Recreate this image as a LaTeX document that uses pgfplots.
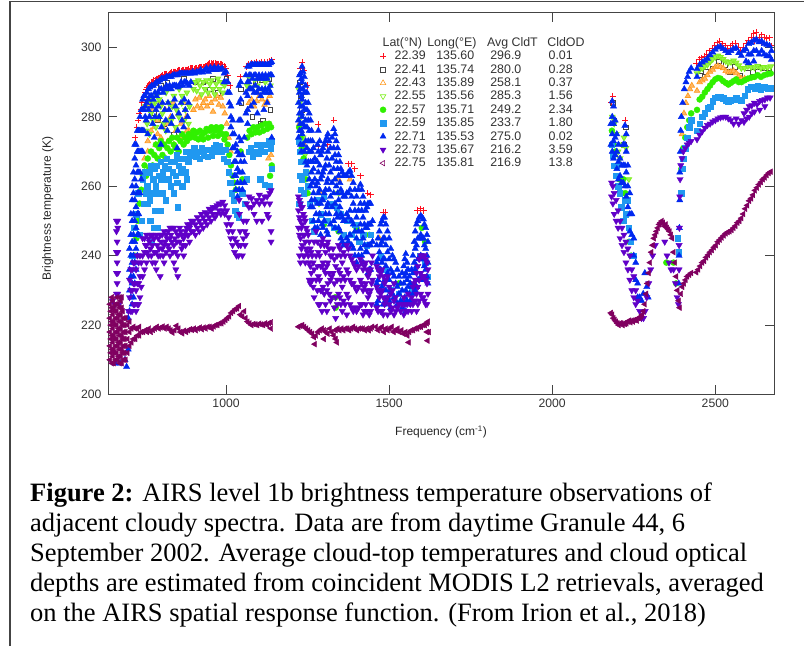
\documentclass[border=0pt]{standalone}
\usepackage{fontspec}
\setmainfont{Liberation Sans}
\newfontfamily\capfont{Liberation Serif}
\usepackage{pgfplots}
\pgfplotsset{compat=1.18}
\definecolor{cR}{HTML}{FF1020}
\definecolor{cK}{HTML}{444444}
\definecolor{cO}{HTML}{FF9A20}
\definecolor{cL}{HTML}{80F020}
\definecolor{cG}{HTML}{30F000}
\definecolor{cB}{HTML}{2098F0}
\definecolor{cT}{HTML}{0028F0}
\definecolor{cP}{HTML}{6000C8}
\definecolor{cM}{HTML}{800060}
\definecolor{axc}{HTML}{444444}
\newcommand{\row}[4]{\hspace*{8pt}\makebox[41.7pt][l]{#1}\makebox[54pt][l]{#2}\makebox[58.3pt][l]{#3}#4}
\begin{document}
\begin{tikzpicture}[x=1pt,y=1pt]
\path[use as bounding box] (0,0) rectangle (804,646);
\draw[axc,line width=1.6pt] (10,0) -- (10,644.5) -- (804,644.5);
\begin{axis}[at={(108pt,251.5pt)},anchor=south west,scale only axis,width=666pt,height=381.8pt,
 xmin=638,xmax=2680,ymin=200,ymax=310,
 xtick={1000,1500,2000,2500},ytick={200,220,240,260,280,300},
 tick align=inside,major tick length=9pt,axis line style={axc,line width=0.9pt},
 every tick/.style={axc,line width=0.9pt},
 /pgf/number format/assume math mode=true,/pgf/number format/1000 sep={},
 tick label style={font=\fontsize{12.2}{14}\selectfont,text=black!80},
 xticklabel style={yshift=-1pt},
 yticklabel style={xshift=-3pt},
 label style={font=\fontsize{12}{14}\selectfont,text=black!85},
 xlabel={Frequency (cm\textsuperscript{-1})},
 ylabel={Brightness temperature (K)},
 xlabel style={yshift=-11pt},
 ylabel style={yshift=21pt,xshift=-5pt},
 legend cell align=left,
 legend style={at={(0.405,0.937)},anchor=north west,draw=none,fill=none,
   font=\fontsize{12.4}{13.3}\selectfont,text=black!80,row sep=2pt,inner sep=0pt,
   nodes={inner sep=0.6pt}},
 legend image code/.code={\draw[#1] plot coordinates {(0.18cm,0cm)};},
]
\addlegendimage{empty legend}
\addlegendentry{\hspace*{-4pt}\makebox[44.7pt][l]{Lat(°N)}\makebox[59.7pt][l]{Long(°E)}\makebox[60.3pt][l]{Avg CldT}CldOD}
% red plus
\addplot[forget plot,only marks,mark=+,mark size=3.1pt,mark options={cR,line width=0.9pt}] coordinates {
(722,274)(730,279)(738,282)(745,285)(752,287)(759,288.5)(766,289.5)(774,290)(782,290.5)(790,291)(798,291.5)(806,292)(814,292.3)(822,292)(830,292.6)(838,293)(846,293)(854,293.5)(862,293.3)(870,293.6)(878,293.4)(886,293.8)(894,294)(902,293.8)(910,294)(918,294.2)(926,294.4)(934,294.2)(942,295)(950,295.5)(958,295.3)(966,295.4)(974,295.2)(982,295.3)(990,295)(998,294)(1005,292)(1012,289)(1043,291.5)(1062,294.5)(1070,295.3)(1078,295.5)(1086,295.6)(1094,295.8)(1102,295.6)(1110,295.8)(1118,295.7)(1126,295.8)(1134,296)(1140,296.4)
(726,277)(734,281)(742,284)(748,286)(756,288)(763,289)(770,290)(778,290.5)(786,291)(794,291.3)(802,291.8)(810,292.2)(818,292.2)(826,292.4)(834,292.8)(842,293)(850,293.3)(858,293.4)(866,293.5)(874,293.5)(882,293.6)(890,293.9)(898,293.9)(906,293.9)(914,294.1)(922,294.3)(930,294.3)(938,294.6)(946,295.3)(954,295.4)(962,295.4)(970,295.3)(978,295.2)(986,295.2)(994,294.6)
(1228,294)(1233,295.8)(1240,293.5)(1248,289)(1283,277.8)(1330,279)(1283,271.5)(1312,272)(1375,266.5)(1385,266.5)(1395,265)(1412,263)(1435,258)(1443,257.5)(1482,252.5)(1488,252.5)(1587,253)(1597,253.5)(1606,253)
(2182,284)(2186,286)(2224,279)(2442,295.5)(2450,296.5)(2458,297)(2466,297.5)(2474,298)(2482,299)(2490,299.8)(2498,300.5)(2506,301.3)(2514,301.8)(2522,301)(2530,300.5)(2538,299.8)(2546,300.5)(2554,301)(2562,301.2)(2570,300)(2578,299)(2586,300)(2594,301)(2602,302)(2610,303)(2618,304)(2626,304.3)(2634,303)(2642,303.6)(2650,303)(2658,302.6)(2666,302.8)(2672,300.5)(2620,302)(2640,301.5)
};
\addlegendimage{only marks,mark=+,mark size=3pt,mark options={cR,line width=0.7pt}}
\addlegendentry{\row{22.39}{135.60}{296.9}{0.01}}
% black squares
\addplot[forget plot,only marks,mark=square,mark size=2.3pt,mark options={cK,line width=0.45pt,fill=none}] coordinates {
(1000,291)(960,291)(930,290)(905,290)(870,291)(820,290)(800,289)(780,281)(810,278)(840,275)(760,284)(790,279)(950,288)(975,287)(1045,288)(1046,284)(1080,280)(1105,278)(1112,279)(1135,282)(1130,291)(1110,290.5)(1090,290)(1225,290)(1228,286)(1232,282)(2185,284)(2225,277)(2220,272)(2190,279)
(2452,292)(2470,293)(2490,294)(2510,296)(2530,295)(2545,293)(2560,294.5)(2575,292)(2600,294)(2615,293)(2630,294.5)(2650,294)(2665,294)
};
\addlegendimage{only marks,mark=square,mark size=2.7pt,mark options={cK,line width=0.6pt}}
\addlegendentry{\row{22.41}{135.74}{280.0}{0.28}}
% orange
\addplot[forget plot,only marks,mark=triangle*,mark size=3.2pt,mark options={draw=cO,fill=cO!70,line width=0.7pt}] coordinates {
(750,268)(755,279)(762,283)(770,276)(776,282)(784,272)(790,279)(798,284)(806,277)(814,282)(822,273)(830,280)(838,284)(846,276)(854,281)(862,278)(870,284)(878,280)(886,276)
(760,273)(780,277)(800,274)(820,278)(840,272)(860,274)(880,276)(760,270)(790,275)
(900,282)(906,285)(912,283)(918,285.5)(924,282.5)(930,284)(936,285)(942,283)(948,286)(954,284)(960,281.5)(966,285)(972,286)(978,283.5)(984,285.5)(990,283)(996,281)(1002,278)(1008,274)(1014,270)
(1070,284)(1078,285)(1086,283)(1094,284.5)(1102,286)(1110,285)(1118,283.5)(1126,284.5)(1134,286)(1138,269)(1130,268)
(1225,278)(1230,276)(1240,272)(1290,258)(1345,262)(1380,262)(1470,245)
(2398,275)(2404,281)(2410,284)(2416,286)(2422,288)(2428,289)(2444,287.5)(2452,290)(2460,290.5)(2468,291)(2476,292)(2484,293)(2492,293.6)(2500,294.3)(2508,294.6)(2516,294.4)(2524,294)(2532,293.2)(2540,292.8)(2548,293)(2556,293.2)(2564,292.6)(2572,291.8)(2580,291)(2590,291)
};
\addlegendimage{only marks,mark=triangle,mark size=3.2pt,mark options={cO,line width=0.6pt}}
\addlegendentry{\row{22.43}{135.89}{258.1}{0.37}}
% light green
\addplot[forget plot,only marks,mark=triangle*,mark size=3.2pt,mark options={draw=cL,fill=cL!80,line width=0.8pt,rotate=180}] coordinates {
(752,283)(758,278)(764,285)(770,281)(776,279)(782,284)(788,286)(794,280)(800,283)(808,278)(816,287)(824,284)(832,279)(840,286)(848,282)(856,288)(864,284)(872,279)(880,287)(888,283)
(755,276)(765,275)(775,284)(785,277)(795,285)(805,281)(815,276)(825,279)(835,283)(845,277)(855,280)(865,286)(875,282)(885,278)
(900,288)(905,290)(910,287.5)(915,290.5)(920,289)(925,286.5)(930,290)(935,288)(940,290.5)(945,287)(950,289.5)(955,290.5)(960,288)(965,286.5)(970,289.5)(975,291)(980,288)(985,290)(990,287)(995,289)
(1064,289)(1072,291)(1080,288.5)(1088,290.5)(1096,289)(1104,291)(1112,288)(1120,290)(1128,291)(1136,289)
(1222,288)(1226,284)(1230,280)(1236,274)(1242,269)(1250,264)(1285,255)(1345,258)
(2184,280)(2190,278)(2196,275)(2202,270)(2208,268)(2214,272)(2220,274)(2226,271)(2235,262)
(2444,292.5)(2452,293.6)(2460,294)(2468,294.6)(2476,295)(2484,295.8)(2492,296.6)(2500,297.2)(2508,297.6)(2516,297.2)(2524,296.6)(2532,296)(2540,295.6)(2548,295.8)(2556,296.2)(2564,295.6)(2572,294.8)(2580,294)(2590,294)(2600,294.6)(2610,294.3)(2620,294.2)(2630,294.6)(2640,294)(2650,294.3)(2660,294.2)(2670,294.5)
};
\addlegendimage{only marks,mark=triangle,mark size=3.2pt,mark options={cL,line width=0.6pt,rotate=180}}
\addlegendentry{\row{22.55}{135.56}{285.3}{1.56}}
% green circles
\addplot[forget plot,only marks,mark=*,mark size=3pt,mark options={cG}] coordinates {
(745,263)(750,266)(755,263)(760,268)(765,265)(770,270)(775,266)(780,269)(785,272)(790,268)(795,271)(800,273)(805,269)(810,272)(815,268)(820,271)(825,273)(830,270)(835,274)(840,272)(845,271)(850,274)(855,270)(860,273)(865,275)(870,272)(875,274)(880,273)(885,275)(890,274)
(895,275)(900,276)(905,274)(910,275.5)(915,273.5)(920,276)(925,274.5)(930,273.5)(935,275.5)(940,276.5)(945,274)(950,276)(955,277)(960,274.5)(965,276)(970,277)(975,274.5)(980,276)(985,277)(990,275)(995,273.5)(1000,275)(1005,272)(1010,269)(1015,266)(1020,263)(1025,261)(1030,259)
(1045,270)(1050,262)(1065,274)(1072,276)(1078,275)(1084,277)(1090,275.5)(1096,277)(1102,275.5)(1108,277.5)(1114,276)(1120,278)(1126,276.5)(1132,278)(1138,277)(1140,266)(1135,263)
(720,240)(725,245)(730,250)(735,255)(740,259)
(1224,277)(1228,274)(1232,271)(1238,268)(1244,262)(1250,258)(1300,249)(1335,228)(1336,225)(1345,247)(1400,248)(1440,246)(1530,232)(1600,248)(1610,244)
(2183,276)(2188,272)(2194,270)(2200,266)(2206,262)(2212,258)(2218,262)(2224,258)(2230,252)(2236,244)(2242,240)
(2350,238)(2372,238)(2380,232)
(2396,265)(2402,271)(2408,274)(2414,277)(2420,279)(2426,281)(2444,282)(2452,285)(2460,285.8)(2468,287)(2476,288)(2484,289)(2492,290)(2500,290.8)(2508,291.2)(2516,291)(2524,290.3)(2532,289.8)(2540,289.3)(2548,289.8)(2556,290.3)(2564,290.8)(2572,290)(2580,290)(2590,290.5)(2600,291)(2610,291.3)(2620,291.5)(2630,292)(2640,291.5)(2650,292)(2660,292.3)(2670,292.5)
};
\addlegendimage{only marks,mark=*,mark size=3pt,mark options={cG}}
\addlegendentry{\row{22.57}{135.71}{249.2}{2.34}}
% light blue squares
\addplot[forget plot,only marks,mark=square*,mark size=2.7pt,mark options={cB}] coordinates {
(712,240)(718,248)(724,252)(730,258)(736,246)(742,250)(748,255)(745,262)(752,264)(758,260)(764,264)(770,266)(776,262)(782,265)(788,266)(794,263)(800,267)(806,264)(812,266)(818,268)(824,265)(830,267)(836,264)(842,267)(848,269)(854,266)(860,268)(866,265)(872,268)(878,270)(884,267)(890,269)
(760,255)(768,250)(775,258)(782,253)(790,248)(798,253)(806,258)(815,256)(830,260)(840,258)(850,261)(852,254)(865,260)(880,262)
(755,258)(765,256)(775,262)(785,260)(795,258)(810,262)(825,262)(845,263)(860,264)(875,264)(770,244)(780,248)(800,262)
(896,270)(902,271)(908,268.5)(914,270)(920,268)(926,271)(932,269)(938,270.5)(944,268.5)(950,270.5)(956,269)(962,271)(968,272)(974,270)(980,271.5)(986,270)(992,268)(998,270.5)(1003,267)(1008,264)(1013,261)(1018,258)(1023,256)(1028,253)(1033,252)(1038,251)
(1050,258)(1058,255)(1064,262)(1070,270)(1076,271)(1082,268.5)(1088,270)(1094,272)(1100,269.5)(1106,271)(1112,272)(1118,270)(1124,272)(1130,273)(1136,271)(1140,273)(1105,262)(1118,260.5)(1132,260)(1140,265)
(1222,273)(1226,270)(1230,267)(1225,263)(1228,259)(1224,255)(1232,262)(1238,258)(1244,264)(1250,260)(1256,255)(1262,250)(1270,247)(1280,256)(1290,252)(1300,257)(1310,250)(1320,255)(1330,248)(1340,254)(1350,252)(1360,246)(1372,250)(1384,246)(1396,249)(1408,244)(1420,246)(1432,243)(1444,246)(1475,240)(1490,236)(1505,230)(1530,229)(1570,230)(1595,240)(1610,238)(1618,234)
(2182,272)(2186,269)(2190,266)(2194,263)(2198,266)(2202,260)(2206,258)(2212,254)(2218,250)(2222,256)(2226,252)(2230,256)(2235,248)(2240,244)(2248,240)
(2385,245)(2388,241)(2396,258)(2398,265)(2402,268)(2408,271)(2414,274)(2420,277)(2426,279)(2444,276)(2452,278)(2460,280)(2468,281)(2476,282.5)(2484,283)(2492,284.5)(2500,285.5)(2508,285.8)(2516,285.6)(2524,285.4)(2532,284.8)(2540,284.4)(2548,284.8)(2556,285)(2564,285.5)(2572,285)(2580,284.8)(2590,286)(2600,288)(2610,288.6)(2620,288.3)(2630,288.8)(2640,288)(2650,288.5)(2660,288.2)(2670,288.2)
};
\addlegendimage{only marks,mark=square*,mark size=2.7pt,mark options={cB}}
\addlegendentry{\row{22.59}{135.85}{233.7}{1.80}}
% blue triangles
\addplot[forget plot,only marks,mark=triangle*,mark size=3.6pt,mark options={cT}] coordinates {
(695,208)(675,209)(660,209)(690,210)(700,213)(700,222)(704,224)(704,230)(704,236)(704,242)(708,228)(708,234)(708,240)(708,246)(708,252)(712,226)(712,232)(712,238)(712,244)(712,250)(712,256)(712,260)(716,228)(716,234)(716,240)(716,246)(716,252)(716,258)(716,264)(720,232)(720,238)(720,244)(720,250)(720,256)(720,262)(720,268)(720,272)(724,236)(724,242)(724,248)(724,254)(724,260)(724,266)(724,272)(728,240)(728,246)(728,252)(728,258)(728,264)(728,270)(728,276)(732,246)(732,252)(732,258)(732,264)(732,270)(732,276)(736,258)(736,264)(736,270)(736,276)(736,280)(740,262)(740,270)(740,276)(740,282)(744,270)(744,276)(744,282)(744,285)(748,276)(748,282)(748,286)
(752,286)(752,283)(752,280)(757,287)(757,284)(762,288)(762,285)(762,282)(767,288.5)(767,286)(772,289)(772,286)(772,283)(777,289)(777,285)(782,289.5)(782,287)(782,280)(787,290)(787,286)(792,290)(792,287)(792,283)(797,290.5)(797,288)(802,291)(802,288)(802,277)(807,291)(807,287)(812,291)(812,288)(812,282)(817,291.5)(817,289)(822,291.5)(822,288)(822,284)(827,291.5)(827,289)(832,291.5)(832,288)(832,278)(837,292)(837,289)(842,292)(842,289)(842,285)(847,292)(847,289)(852,292)(852,288.5)(852,276)(857,292.5)(857,289)(862,292.5)(862,290)(862,284)(867,292.5)(867,289)(872,292.5)(872,290)(872,285)(877,292.5)(877,290)(882,292.5)(882,289.5)(882,280)(887,292.5)(887,289)(892,292.5)(892,290)
(755,279)(765,280)(775,278)(785,282)(795,280)(805,284)(815,279)(825,282)(835,280)(845,283)(855,281)(865,279)(875,282)(885,284)(760,275)(780,274)(800,272)(820,276)(850,271)(870,277)
(898,293)(904,292.5)(910,293)(916,292.8)(922,293.5)(928,292.8)(934,293.3)(940,294)(946,293)(952,294.2)(958,293.5)(964,294.3)(970,293.5)(976,294.2)(982,293.6)(988,294)(994,292.5)(994,290)(1000,293)(1000,290)(1005,290)(1005,287)(1010,287)(1010,284)(1015,283)(1015,280)(1015,277)(1020,279)(1020,275)(1020,271)(1025,275)(1025,271)(1025,267)(1025,263)(1030,272)(1030,267)(1030,263)(1030,259)(1035,270)(1035,265)(1035,261)(1035,257)
(1040,289)(1040,284)(1040,279)(1040,274)(1040,269)(1040,264)(1040,259)(1045,290)(1045,285)(1045,279)(1045,273)(1045,267)(1045,261)(1050,269)(1050,264)(1050,259)(1056,261)(1056,267)(1056,274)(1061,281)(1061,287)(1061,292)
(1066,294.5)(1066,290)(1066,286)(1066,282)(1066,278)(1071,294.5)(1071,292)(1071,288)(1076,295)(1076,292)(1076,283)(1081,295)(1081,291)(1086,295)(1086,292)(1086,287)(1091,295)(1091,292)(1096,295)(1096,291)(1096,281)(1101,295)(1101,292)(1106,295)(1106,291)(1106,286)(1111,295)(1111,292)(1116,295)(1116,291)(1116,282)(1121,295)(1121,292)(1126,295)(1126,291)(1126,284)(1131,295)(1131,292)(1136,295.5)(1136,292)(1136,287)(1140,295.8)(1140,292)(1140,274)
(1070,290)(1080,288)(1090,289)(1100,288)(1110,288)(1120,288)(1130,288)(1075,288)(1085,284)(1095,287)(1115,287)(1125,287)(1135,289)
(1222,289)(1222,284)(1222,279)(1222,274)(1228,292.5)(1228,288)(1228,283)(1228,278)(1228,272)(1233,294.5)(1233,290)(1233,285)(1233,280)(1233,275)(1240,291.5)(1240,287)(1240,282)(1240,277)(1240,270)(1248,287)(1248,282)(1248,277)(1248,271)(1248,266)(1255,281)(1255,276)(1255,270)(1255,262)(1262,276)(1262,270)(1262,264)(1262,256)(1268,271)(1268,265)(1268,258)(1268,250)
(1276,267)(1276,260)(1276,252)(1283,276)(1283,270)(1283,264)(1283,258)(1283,250)(1290,269)(1290,262)(1290,255)(1290,246)(1297,271)(1297,264)(1297,256)(1297,248)(1305,273)(1305,266)(1305,259)(1305,252)(1312,275)(1312,270)(1312,262)(1312,255)(1312,246)(1320,271)(1320,264)(1320,257)(1320,249)(1330,276.5)(1330,271)(1330,265)(1330,258)(1330,250)(1338,273)(1338,267)(1338,260)(1338,252)(1345,269)(1345,263)(1345,256)(1345,248)(1352,265)(1352,259)(1352,252)(1352,245)
(1360,263)(1360,257)(1360,250)(1360,243)(1370,263)(1370,258)(1370,252)(1370,245)(1380,264.5)(1380,259)(1380,253)(1380,246)(1390,261)(1390,255)(1390,249)(1390,242)(1400,257)(1400,251)(1400,245)(1400,238)(1412,260.5)(1412,255)(1412,249)(1412,242)(1420,257)(1420,251)(1420,245)(1420,238)(1428,253)(1428,248)(1428,241)(1435,255)(1435,249)(1435,243)(1435,235)(1443,255)(1443,249)(1443,243)(1443,236)(1449,250)(1449,244)
(1225,292)(1225,287)(1225,281)(1225,276)(1231,291)(1231,286)(1231,281)(1231,276)(1231,270)(1236,293)(1236,288)(1236,283)(1236,278)(1236,272)(1244,289)(1244,284)(1244,279)(1244,273)(1244,267)(1252,284)(1252,279)(1252,273)(1252,267)(1259,279)(1259,273)(1259,267)(1259,260)(1259,254)(1265,273)(1265,267)(1265,261)(1265,254)(1272,268)(1272,262)(1272,256)(1272,248)(1280,272)(1280,267)(1280,261)(1280,255)(1280,248)(1287,273)(1287,266)(1287,259)(1287,252)(1294,270)(1294,263)(1294,256)(1294,249)(1301,272)(1301,265)(1301,258)(1301,250)(1309,274)(1309,268)(1309,261)(1309,254)(1309,247)(1316,273)(1316,266)(1316,259)(1316,252)(1325,274)(1325,268)(1325,261)(1325,254)(1334,275)(1334,269)(1334,262)(1334,255)(1334,248)(1342,271)(1342,265)(1342,258)(1342,251)(1349,267)(1349,261)(1349,254)(1349,247)(1356,264)(1356,258)(1356,251)(1356,244)(1365,263)(1365,257)(1365,250)(1365,243)(1375,264)(1375,258)(1375,251)(1375,244)(1385,263)(1385,257)(1385,250)(1385,243)(1395,259)(1395,253)(1395,247)(1395,240)(1406,259)(1406,253)(1406,247)(1406,240)(1416,259)(1416,253)(1416,247)(1416,240)(1424,255)(1424,249)(1424,243)(1432,254)(1432,248)(1432,241)(1439,255)(1439,249)(1439,243)(1439,236)
(1462,243)(1462,238)(1462,232)(1462,226)(1470,247)(1470,241)(1470,236)(1470,230)(1478,250)(1478,244)(1478,238)(1478,231)(1486,251)(1486,245)(1486,239)(1486,233)(1486,226)(1495,247)(1495,241)(1495,235)(1495,228)(1505,242)(1505,236)(1505,230)(1505,225)(1515,239)(1515,234)(1515,228)(1525,236)(1525,231)(1525,226)(1535,232)(1535,227)(1545,237)(1545,232)(1545,227)(1551,240.5)(1551,235)(1551,230)(1551,224)(1558,236)(1558,231)(1558,226)(1565,232)(1565,227)(1573,240)(1573,235)(1573,229)(1580,247)(1580,242)(1580,236)(1580,230)(1588,250)(1588,245)(1588,239)(1588,233)(1597,251.5)(1597,246)(1597,240)(1597,234)(1605,250.5)(1605,245)(1605,239)(1612,248)(1612,242)(1612,236)(1619,244)(1619,238)(1619,232)
(1466,245)(1466,239)(1466,233)(1466,227)(1474,249)(1474,243)(1474,236)(1474,230)(1482,251)(1482,245)(1482,239)(1482,232)(1482,226)(1490,249)(1490,243)(1490,237)(1490,230)(1500,245)(1500,239)(1500,233)(1500,227)(1510,240)(1510,235)(1510,229)(1520,238)(1520,232)(1520,227)(1530,234)(1530,229)(1540,235)(1540,230)(1540,225)(1548,239)(1548,234)(1548,228)(1555,238)(1555,233)(1555,227)(1562,234)(1562,229)(1569,236)(1569,231)(1577,244)(1577,238)(1577,232)(1584,249)(1584,243)(1584,237)(1584,231)(1592,251)(1592,245)(1592,239)(1592,233)(1601,251)(1601,245)(1601,239)(1601,233)(1608,249)(1608,243)(1608,237)(1616,246)(1616,240)(1616,234)
(2180,278)(2180,272)(2184,284.5)(2184,280)(2184,275)(2184,270)(2188,283)(2188,278)(2188,273)(2188,268)(2193,279)(2193,274)(2193,269)(2198,275)(2198,270)(2198,265)(2203,272)(2203,267)(2203,262)(2208,268)(2208,263)(2213,266)(2213,261)(2218,272)(2218,266)(2218,261)(2223,277.5)(2223,272)(2223,266)(2223,260)(2227,275)(2227,270)(2227,264)(2227,257)(2232,266)(2232,260)(2232,254)(2238,258)(2238,252)(2238,247)(2244,252)(2244,246)(2250,245)(2250,240)(2256,238)(2256,233)(2262,232)(2262,228)(2268,228)(2274,227)(2279,229)(2284,235)(2290,231)(2294,228)
(2388,232)(2389,240)(2390,248)(2391,256)(2391,264)(2393,270)(2394,276)(2396,280)(2400,284)(2405,288)(2410,290)(2415,291.5)(2420,293)(2426,294)
(2444,293.8)(2444,291.5)(2452,295)(2460,295.7)(2468,296.2)(2476,296.8)(2484,297.8)(2492,298.6)(2500,299.4)(2508,300)(2516,300.2)(2524,299.6)(2532,299)(2540,298.4)(2548,299)(2556,299.6)(2564,299.8)(2572,298.4)(2580,297.6)(2586,299)(2594,299.5)(2594,296)(2602,301)(2602,298)(2602,295.5)(2610,301.3)(2610,298)(2618,302)(2618,299)(2618,296)(2626,302.3)(2626,299)(2634,301.5)(2634,298)(2642,301.8)(2642,299)(2650,301)(2650,298)(2658,300.8)(2658,297.5)(2666,300.5)(2666,297.5)(2672,299)(2672,296.5)
};
\addlegendimage{only marks,mark=triangle*,mark size=3.4pt,mark options={cT}}
\addlegendentry{\row{22.71}{135.53}{275.0}{0.02}}
% purple triangles
\addplot[forget plot,only marks,mark=triangle*,mark size=3.6pt,mark options={cP,rotate=180}] coordinates {
(664,250)(668,250)(664,247)(668,248)(666,244)(664,241)(668,241)(666,238)(664,235)(668,235)(666,232)(664,229)(668,229)(660,226)(672,226)(652,227)
(701,224)(704,228)(704,233)(708,224)(708,230)(708,236)(712,224)(712,230)(712,236)(716,226)(716,232)(716,238)(720,226)(720,232)(720,238)(724,224)(724,230)(724,236)(728,226)(728,232)(728,240)(732,226)(732,232)(732,238)(736,228)(736,234)(736,240)(740,231)(740,238)(744,234)(744,240)(744,245)
(750,236)(750,241)(750,245)(756,238)(756,243)(756,246)(762,240)(762,245)(768,242)(768,246)(774,238)(774,243)(774,246)(780,241)(780,245)(786,236)(786,241)(786,246)(792,240)(792,245)(798,234)(798,240)(798,246)(804,242)(804,246)(810,238)(810,243)(810,247)(816,241)(816,246)(822,243)(822,247)(828,240)(828,245)(828,248)(834,244)(834,248)(840,238)(840,243)(840,248)(846,236)(846,241)(846,247)(852,234)(852,240)(852,246)(858,244)(858,248)(864,242)(864,246)(870,240)(870,245)(876,243)(876,247)(882,246)(882,249)(888,244)(888,248)(894,247)(894,250)
(753,243)(759,241)(765,244)(771,240)(777,245)(783,238)(789,243)(795,242)(801,244)(807,240)(813,244)(819,245)(825,242)(831,246)(837,241)(843,245)(849,244)(855,246)(861,247)(867,243)(873,246)(879,248)(885,246)(891,249)
(900,247)(900,250)(906,246)(906,249)(912,248)(912,251)(918,247)(918,250)(924,249)(924,252)(930,248)(930,251)(936,250)(936,252.5)(942,249)(942,252)(948,251)(948,253.5)(954,250)(954,253)(960,252)(960,254)(966,251)(966,254)(972,252)(972,254.5)(978,253)(978,255)(984,252)(984,255)(990,253)(990,255.5)(996,252)(996,254.5)(1002,249)(1002,253)(1008,247)(1008,251)(1014,245)(1014,249)(1020,243)(1020,247)(1026,241)(1026,245)(1032,240)(1032,244)(1038,240)(1038,243)
(1040,256)(1041,252)(1043,247)(1045,243)(1050,240)(1053,245)(1053,250)(1058,243)(1058,247)(1063,255)(1063,250)(1063,246)(1070,254)(1070,257)(1078,254)(1078,256.5)(1086,255)(1086,252)(1094,256)(1094,250)(1102,255)(1102,257.5)(1110,256)(1110,250)(1118,257)(1118,255)(1126,257)(1126,252)(1134,258)(1134,255)(1138,258.8)(1138,247)(1138,244)(1130,251)
(1222,257)(1222,253)(1222,248)(1228,255)(1228,250)(1228,245)(1228,238)(1234,254)(1234,249)(1234,243)(1240,251)(1240,246)(1240,240)(1246,248)(1246,242)(1252,246)(1252,240)(1258,242)(1258,237)(1258,232)(1264,240)(1264,233)(1270,236)(1270,228)(1270,244)
(1225,256)(1225,251)(1225,246)(1225,240)(1231,254)(1231,248)(1231,242)(1237,252)(1237,246)(1237,240)(1243,250)(1243,244)(1243,238)(1249,247)(1249,241)(1255,244)(1255,238)(1255,233)(1261,241)(1261,235)(1267,238)(1267,231)
(1276,247)(1276,240)(1276,233)(1283,241)(1283,234)(1283,226)(1290,243)(1290,237)(1290,230)(1297,245)(1297,238)(1297,231)(1305,241)(1305,235)(1305,226)(1312,244)(1312,238)(1312,232)(1320,240)(1320,233)(1320,227)(1328,242)(1328,235)(1336,237)(1336,228)(1336,222)(1345,243)(1345,236)(1345,229)(1352,240)(1352,233)(1352,226)(1360,241)(1360,234)(1360,227)(1370,243)(1370,236)(1370,229)(1370,223)(1380,240)(1380,233)(1380,226)(1390,238)(1390,232)(1390,224)(1400,236)(1400,230)(1400,224)(1412,239)(1412,233)(1412,226)(1420,236)(1420,230)(1420,223)(1428,238)(1428,232)(1428,226)(1435,234)(1435,228)(1443,236)(1443,230)(1443,224)(1449,240)(1449,233)
(1280,244)(1280,237)(1280,230)(1287,240)(1287,233)(1287,226)(1294,244)(1294,237)(1294,230)(1294,224)(1301,243)(1301,236)(1301,229)(1309,243)(1309,237)(1309,230)(1309,224)(1316,242)(1316,235)(1316,229)(1324,240)(1324,234)(1324,228)(1332,239)(1332,232)(1332,225)(1341,240)(1341,233)(1341,226)(1349,242)(1349,235)(1349,228)(1356,238)(1356,231)(1356,224)(1365,240)(1365,233)(1365,226)(1375,242)(1375,235)(1375,228)(1385,239)(1385,232)(1385,225)(1395,237)(1395,231)(1395,225)(1406,237)(1406,231)(1406,225)(1416,238)(1416,232)(1416,226)(1424,237)(1424,231)(1424,224)(1432,236)(1432,230)(1432,224)(1439,235)(1439,229)(1439,223)(1446,238)(1446,232)(1446,226)
(1462,237)(1462,231)(1462,225)(1470,234)(1470,228)(1478,236)(1478,230)(1478,224)(1486,232)(1486,226)(1495,234)(1495,228)(1495,223)(1505,229)(1505,224)(1515,232)(1515,227)(1515,223)(1525,225)(1535,224)(1545,228)(1545,223)(1551,224)(1558,229)(1558,224)(1565,226)(1573,231)(1573,226)(1580,233)(1580,227)(1588,237)(1588,231)(1588,226)(1597,240)(1597,235)(1597,229)(1605,240)(1605,234)(1605,228)(1612,239)(1612,233)(1612,226)(1619,236)(1619,229)
(1466,236)(1466,230)(1466,224)(1474,235)(1474,229)(1474,224)(1482,234)(1482,228)(1482,223)(1490,233)(1490,227)(1500,231)(1500,226)(1510,230)(1510,225)(1520,228)(1520,224)(1530,226)(1540,226)(1548,226)(1555,226)(1569,228)(1569,224)(1577,232)(1577,227)(1584,235)(1584,229)(1584,224)(1592,239)(1592,233)(1592,227)(1601,240)(1601,234)(1601,228)(1608,240)(1608,234)(1608,227)(1616,238)(1616,232)(1616,226)
(2182,261)(2182,257)(2186,260)(2186,255)(2190,258)(2190,252)(2196,256)(2196,250)(2202,253)(2202,248)(2208,250)(2208,245)(2214,248)(2214,243)(2220,246)(2220,241)(2226,244)(2226,238)(2232,242)(2232,236)(2238,240)(2238,233)(2244,236)(2244,230)(2250,234)(2250,228)(2256,230)(2256,226)(2262,227)(2268,224)(2274,222)(2280,222)(2285,224)(2290,228)(2296,232)(2302,236)(2308,240)(2316,243)(2345,244)(2352,240)(2358,238)(2364,236)(2372,236)(2378,232)(2383,228)(2387,226)(2389,236)(2389,243)(2390,248)(2391,257)(2392,262)(2394,266)(2398,268)(2402,270)(2408,271)(2414,272)(2420,272.5)(2426,273)
(2444,273.5)(2452,274.8)(2460,275.8)(2468,276.8)(2476,277.6)(2484,278)(2492,278.6)(2500,279)(2508,279.5)(2516,279.8)(2524,280)(2532,280)(2540,279.5)(2548,279)(2556,278)(2564,279.5)(2572,278)(2580,279)(2588,281)(2588,278.5)(2596,282)(2596,279.5)(2604,283)(2604,280)(2612,283.3)(2612,281)(2620,284)(2620,281.5)(2628,283.6)(2636,284.5)(2636,282)(2644,284.8)(2652,285)(2652,283)(2660,285.5)(2668,285.5)
};
\addlegendimage{only marks,mark=triangle*,mark size=3.4pt,mark options={cP,rotate=180}}
\addlegendentry{\row{22.73}{135.67}{216.2}{3.59}}
% magenta left triangles
\addplot[forget plot,only marks,mark=triangle*,mark size=3.3pt,mark options={cM,rotate=90}] coordinates {
(644,210)(644,214)(644,218)(644,222)(644,226)(650,209)(650,213)(650,217)(650,221)(650,225)(650,228)(656,209)(656,213)(656,217)(656,221)(656,225)(662,210)(662,214)(662,218)(662,222)(662,226)(668,210)(668,214)(668,218)(668,222)(668,226)(674,209)(674,213)(674,217)(674,221)(674,225)(674,228)(680,209)(680,213)(680,217)(680,221)(680,225)(680,228)(686,210)(686,214)(686,218)(686,222)(692,210)(692,214)(692,218)(692,222)(698,212)(698,216)(698,220)(704,214)(704,218)(704,221)(710,215)(710,219)(716,216)(716,219.5)(722,216)(722,219)(728,217)(728,219)(734,217)(734,219.5)
(647,212)(647,216)(647,220)(647,224)(653,211)(653,215)(653,219)(653,223)(653,227)(659,212)(659,216)(659,220)(659,224)(665,212)(665,216)(665,220)(665,224)(665,228)(671,211)(671,215)(671,219)(671,223)(677,211)(677,215)(677,219)(677,223)(677,227)(683,212)(683,216)(683,220)(683,224)(689,212)(689,216)(689,220)
(740,218)(746,218)(752,218.5)(758,218)(764,219)(770,218)(776,218.6)(782,219)(788,219.5)(794,219)(800,219.3)(806,219.6)(812,219)(818,219.5)(824,219)(830,218.5)(836,217.8)(842,218.5)(848,219.8)(854,219)(860,218)(866,217.6)(872,218.4)(878,218)(884,218.5)(890,218.8)(896,218.6)(902,219)(908,218.5)(914,219)(920,219.3)(926,218.8)(932,219.3)(938,219)(944,219.5)(950,219.5)(956,219)(962,219.6)(968,220)(974,220)(980,220.5)(986,220.5)(992,221)(998,221.5)(1004,222)(1010,222.5)(1016,223.5)(1022,224)(1028,224.6)(1034,224.8)(1040,225.5)(1044,223)(1050,222.5)(1056,224)(1060,222)(1066,221)(1072,220.5)(1078,220)(1084,220.3)(1090,220.2)(1096,220)(1102,220.4)(1108,220.2)(1114,220)(1120,220.5)(1126,220)(1132,220.6)(1138,220.8)(1138,219)
(1222,219.5)(1228,219.8)(1234,220)(1240,219.5)(1246,219)(1252,218.5)(1258,218)(1264,217.5)(1270,216.5)(1276,217)(1282,218)(1288,218.5)(1294,219)(1300,218.5)(1306,218)(1312,217.5)(1318,219)(1324,218)(1330,217)(1336,218.5)(1342,219)(1348,218.5)(1354,219)(1360,218.5)(1366,219)(1372,219)(1378,218.5)(1384,219)(1390,219.5)(1396,219)(1402,218.5)(1408,219)(1414,219)(1420,219)(1426,218.5)(1432,219)(1438,218.5)(1444,219)(1448,219.5)(1460,219.5)(1466,218.5)(1472,219)(1478,219.5)(1484,218)(1490,219)(1496,218.5)(1502,219)(1508,219.5)(1514,218)(1520,218.5)(1526,219)(1532,218)(1538,218.5)(1544,217.5)(1550,218)(1556,217)(1562,218)(1568,218.5)(1574,218.5)(1580,219)(1586,219)(1592,219.5)(1598,219.5)(1604,220)(1610,220)(1616,220.5)(1616,218)(1619,221)(1622,218)
(1340,215)(1336,216)(1560,215)(1272,214.5)(1300,216)(1618,215.5)
(2180,223.5)(2184,223)(2188,222)(2192,221.5)(2196,221)(2200,220.5)(2204,220)(2208,220.5)(2212,220.5)(2216,220)(2220,220.5)(2224,220.3)(2228,220.5)(2232,221)(2236,221.3)(2240,220.8)(2244,221.3)(2248,221)(2252,221.5)(2256,221.5)(2260,221.3)(2264,222)(2268,222)(2272,222.5)(2276,223)(2280,224)(2284,226)(2288,229)(2292,232)(2296,235)(2300,238)(2304,241)(2308,243)(2312,245)(2316,246)(2320,247)(2324,248)(2328,249)(2332,249.5)(2336,250)(2340,249.5)(2344,248.5)(2348,249)(2352,248)(2356,247.5)(2360,247)(2364,246)(2368,245)(2372,241)(2376,238)(2380,234)(2384,230)(2388,227)(2391,225)(2395,229)(2399,231)(2404,232)(2409,233)(2414,234)(2420,234.5)(2426,235)
(2442,235.2)(2448,236)(2454,237)(2460,238)(2466,238.5)(2472,239.5)(2478,240.2)(2484,241)(2490,241.6)(2496,242.4)(2502,243)(2508,244)(2514,244.6)(2520,245.2)(2526,245.8)(2532,246.4)(2538,246.8)(2544,247)(2550,247.4)(2556,248)(2562,248.6)(2568,249.5)(2574,250)(2580,250.8)(2586,252)(2592,253.5)(2598,254.5)(2604,255.8)(2610,256.5)(2616,257.5)(2622,258.8)(2628,259.6)(2634,260.5)(2640,261.2)(2646,262)(2652,262.5)(2658,263.2)(2664,263.8)(2670,264.2)
};
\addlegendimage{only marks,mark=triangle,mark size=3pt,mark options={cM,line width=0.6pt,rotate=90}}
\addlegendentry{\row{22.75}{135.81}{216.9}{13.8}}
\end{axis}
\node[anchor=north west,inner sep=0pt,align=left,font=\capfont\fontsize{26.5}{30}\selectfont,text=black] at (30,163) {\textbf{Figure 2:} AIRS level 1b brightness temperature observations of\\adjacent cloudy spectra. Data are from daytime Granule 44, 6\\September 2002. Average cloud-top temperatures and cloud optical\\depths are estimated from coincident MODIS L2 retrievals, averaged\\on the AIRS spatial response function. (From Irion et al., 2018)};
\end{tikzpicture}
\end{document}
